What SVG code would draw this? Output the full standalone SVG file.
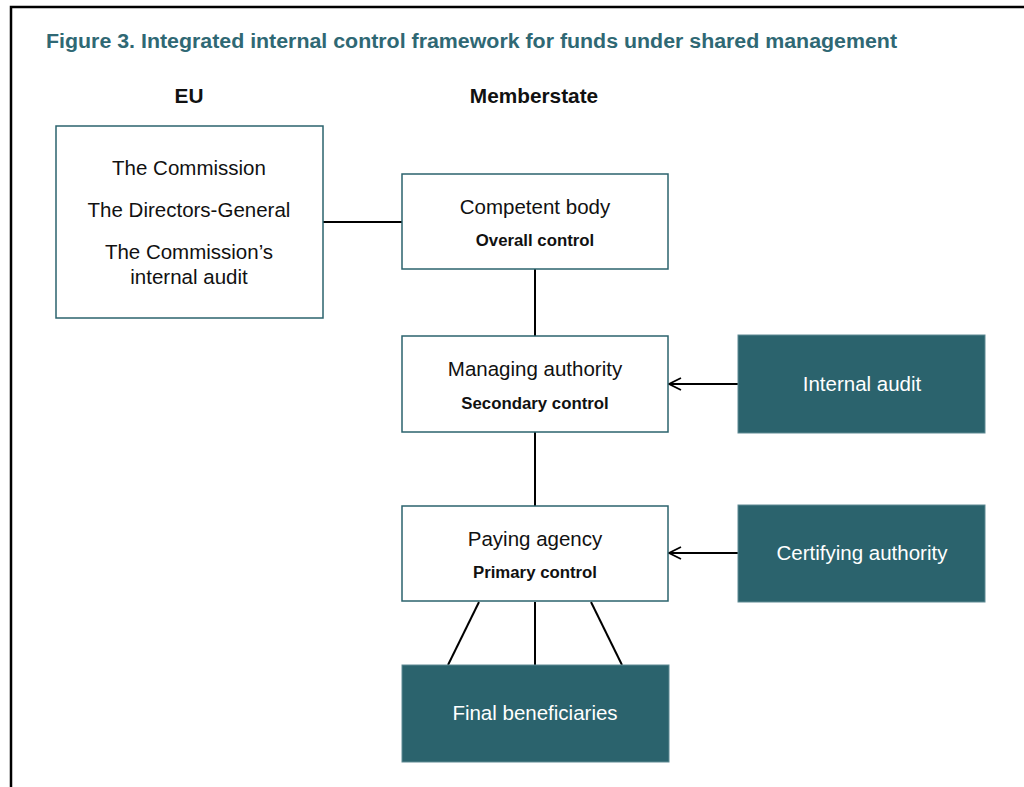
<svg xmlns="http://www.w3.org/2000/svg" width="1024" height="787" viewBox="0 0 1024 787">
<style>
.box{fill:#fff;stroke:#2B636D;stroke-width:1.5}
.dark{fill:#2B636D;stroke:#5E8A93;stroke-width:1}
.t{font-family:"Liberation Sans",Arial,sans-serif;font-size:20.5px;fill:#111;text-anchor:middle}
.b{font-family:"Liberation Sans",Arial,sans-serif;font-size:16.8px;font-weight:bold;fill:#111;text-anchor:middle}
.w{font-family:"Liberation Sans",Arial,sans-serif;font-size:20.5px;fill:#fff;text-anchor:middle}
.h{font-family:"Liberation Sans",Arial,sans-serif;font-size:20.8px;font-weight:bold;fill:#111;text-anchor:middle}
.ln{stroke:#000;stroke-width:2;fill:none}
</style>
<defs>
<marker id="arr" markerWidth="16" markerHeight="16" refX="14" refY="8" orient="auto" markerUnits="userSpaceOnUse" overflow="visible">
<path d="M2,2 L14,8 L2,14" fill="none" stroke="#000" stroke-width="1.8"/>
</marker>
</defs>
<rect width="1024" height="787" fill="#fff"/>
<path d="M11,787 V7 H1024" fill="none" stroke="#000" stroke-width="2.5"/>
<text x="46" y="48" font-family="Liberation Sans,Arial,sans-serif" font-size="20" font-weight="bold" fill="#2F6874" textLength="851" lengthAdjust="spacingAndGlyphs">Figure 3. Integrated internal control framework for funds under shared management</text>
<text class="h" x="189" y="103">EU</text>
<text class="h" x="534" y="103">Memberstate</text>
<g id="connectors">
<line class="ln" x1="323" y1="222" x2="402" y2="222"/>
<line class="ln" x1="535" y1="269" x2="535" y2="336"/>
<line class="ln" x1="535" y1="432" x2="535" y2="506"/>
<path class="ln" d="M738,384 H669" marker-end="url(#arr)"/>
<path class="ln" d="M738,553 H669" marker-end="url(#arr)"/>
<line class="ln" x1="479" y1="602" x2="448" y2="665"/>
<line class="ln" x1="535" y1="602" x2="535" y2="665"/>
<line class="ln" x1="591" y1="602" x2="622" y2="665"/>
</g>
<g id="eu">
<rect class="box" x="56" y="126" width="267" height="192"/>
<text class="t" x="189" y="175">The Commission</text>
<text class="t" x="189" y="217">The Directors-General</text>
<text class="t" x="189" y="259">The Commission’s</text>
<text class="t" x="189" y="284">internal audit</text>
</g>
<g id="competent">
<rect class="box" x="402" y="174" width="266" height="95"/>
<text class="t" x="535" y="214">Competent body</text>
<text class="b" x="535" y="246">Overall control</text>
</g>
<g id="managing">
<rect class="box" x="402" y="336" width="266" height="96"/>
<text class="t" x="535" y="376">Managing authority</text>
<text class="b" x="535" y="409">Secondary control</text>
</g>
<g id="paying">
<rect class="box" x="402" y="506" width="266" height="95"/>
<text class="t" x="535" y="546">Paying agency</text>
<text class="b" x="535" y="578">Primary control</text>
</g>
<g id="internal">
<rect class="dark" x="738" y="335" width="247" height="98"/>
<text class="w" x="862" y="391">Internal audit</text>
</g>
<g id="certifying">
<rect class="dark" x="738" y="505" width="247" height="97"/>
<text class="w" x="862" y="560">Certifying authority</text>
</g>
<g id="final">
<rect class="dark" x="402" y="665" width="267" height="97"/>
<text class="w" x="535" y="720">Final beneficiaries</text>
</g>
</svg>
